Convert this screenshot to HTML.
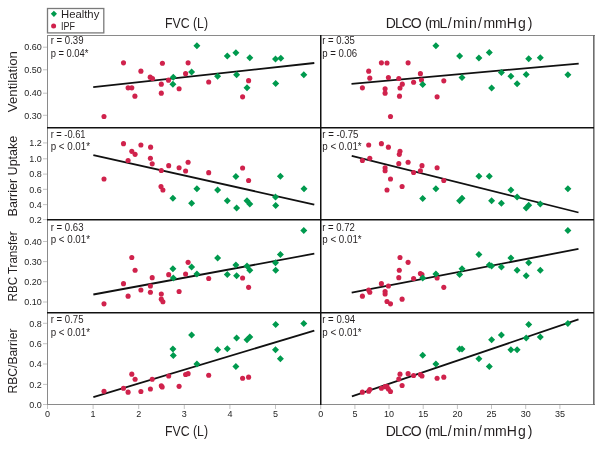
<!DOCTYPE html><html><head><meta charset="utf-8"><style>html,body{margin:0;padding:0;background:#fff;width:604px;height:449px;overflow:hidden}svg{display:block;will-change:transform}text{font-family:"Liberation Sans",sans-serif}</style></head><body>
<svg width="604" height="449" viewBox="0 0 604 449">
<rect width="604" height="449" fill="#fff"/>
<g fill="#8a8a8a">
<rect x="47" y="35" width="1" height="370"/>
<rect x="47" y="35" width="548" height="1"/>
<rect x="47" y="404" width="548" height="1"/>
<rect x="593" y="35" width="1.6" height="370" fill="#6e6e6e"/>
</g>
<g fill="#c4c4c4">
<rect x="43" y="46.7" width="4" height="1"/>
<rect x="43" y="69.3" width="4" height="1"/>
<rect x="43" y="92.7" width="4" height="1"/>
<rect x="43" y="114.8" width="4" height="1"/>
<rect x="43" y="142.4" width="4" height="1"/>
<rect x="43" y="158.3" width="4" height="1"/>
<rect x="43" y="173.6" width="4" height="1"/>
<rect x="43" y="188.8" width="4" height="1"/>
<rect x="43" y="204.1" width="4" height="1"/>
<rect x="43" y="219.1" width="4" height="1"/>
<rect x="43" y="241.0" width="4" height="1"/>
<rect x="43" y="261.1" width="4" height="1"/>
<rect x="43" y="281.2" width="4" height="1"/>
<rect x="43" y="301.5" width="4" height="1"/>
<rect x="43" y="322.8" width="4" height="1"/>
<rect x="43" y="343.2" width="4" height="1"/>
<rect x="43" y="363.5" width="4" height="1"/>
<rect x="43" y="383.9" width="4" height="1"/>
<rect x="43" y="404.0" width="4" height="1"/>
<rect x="47.0" y="405" width="1" height="4"/>
<rect x="92.6" y="405" width="1" height="4"/>
<rect x="138.2" y="405" width="1" height="4"/>
<rect x="183.8" y="405" width="1" height="4"/>
<rect x="229.4" y="405" width="1" height="4"/>
<rect x="275.0" y="405" width="1" height="4"/>
<rect x="320.2" y="405" width="1" height="4"/>
<rect x="354.4" y="405" width="1" height="4"/>
<rect x="388.5" y="405" width="1" height="4"/>
<rect x="422.7" y="405" width="1" height="4"/>
<rect x="456.9" y="405" width="1" height="4"/>
<rect x="491.0" y="405" width="1" height="4"/>
<rect x="525.2" y="405" width="1" height="4"/>
<rect x="559.4" y="405" width="1" height="4"/>
</g>
<g fill="#111">
<rect x="320" y="35" width="1.5" height="370"/>
<rect x="47" y="127" width="547" height="1.5"/>
<rect x="47" y="219" width="547" height="1.5"/>
<rect x="47" y="312" width="547" height="1.5"/>
</g>
<line x1="93.2" y1="87.1" x2="314.3" y2="63.0" stroke="#111" stroke-width="1.8"/>
<g fill="#d0224c">
<circle cx="123.5" cy="62.85" r="2.55"/>
<circle cx="162.4" cy="63.25" r="2.55"/>
<circle cx="140.9" cy="71.15" r="2.55"/>
<circle cx="150.2" cy="77.15" r="2.55"/>
<circle cx="152.5" cy="78.55" r="2.55"/>
<circle cx="128.1" cy="87.85000000000001" r="2.55"/>
<circle cx="131.8" cy="87.85000000000001" r="2.55"/>
<circle cx="134.9" cy="96.15" r="2.55"/>
<circle cx="161.3" cy="84.15" r="2.55"/>
<circle cx="161.3" cy="93.15" r="2.55"/>
<circle cx="168.5" cy="80.15" r="2.55"/>
<circle cx="179.1" cy="88.75" r="2.55"/>
<circle cx="185.6" cy="73.65" r="2.55"/>
<circle cx="188.1" cy="62.85" r="2.55"/>
<circle cx="104" cy="116.55" r="2.55"/>
<circle cx="208.7" cy="82.05" r="2.55"/>
<circle cx="248.6" cy="80.65" r="2.55"/>
<circle cx="242.6" cy="96.85000000000001" r="2.55"/>
</g>
<path fill="#009a4e" d="M173.3 73.7L176.8 77.2L173.3 80.7L169.8 77.2ZM172.9 80.7L176.4 84.2L172.9 87.7L169.4 84.2ZM191.6 68.5L195.1 72.0L191.6 75.5L188.1 72.0ZM196.9 42.2L200.4 45.7L196.9 49.2L193.4 45.7ZM217.6 72.8L221.1 76.2L217.6 79.8L214.1 76.2ZM227.3 52.6L230.8 56.1L227.3 59.6L223.8 56.1ZM235.9 49.2L239.4 52.7L235.9 56.2L232.4 52.7ZM236.6 71.2L240.1 74.7L236.6 78.2L233.1 74.7ZM249.8 54.2L253.3 57.8L249.8 61.2L246.3 57.8ZM247.0 84.2L250.5 87.7L247.0 91.2L243.5 87.7ZM275.5 55.4L279.0 58.9L275.5 62.4L272.0 58.9ZM280.8 54.7L284.3 58.2L280.8 61.7L277.3 58.2ZM275.7 80.0L279.2 83.5L275.7 87.0L272.2 83.5ZM303.8 71.2L307.3 74.7L303.8 78.2L300.3 74.7Z"/>
<text x="50.66" y="44.4" font-size="10.2" fill="#231f20" textLength="32.89" lengthAdjust="spacingAndGlyphs">r = 0.39</text>
<text x="50.70" y="56.6" font-size="10.2" fill="#231f20" textLength="37.75" lengthAdjust="spacingAndGlyphs">p = 0.04*</text>
<line x1="351.5" y1="83.8" x2="578.7" y2="63.55" stroke="#111" stroke-width="1.8"/>
<g fill="#d0224c">
<circle cx="381.4" cy="62.85" r="2.55"/>
<circle cx="387" cy="63.050000000000004" r="2.55"/>
<circle cx="408.1" cy="62.85" r="2.55"/>
<circle cx="368.7" cy="71.15" r="2.55"/>
<circle cx="369.8" cy="78.15" r="2.55"/>
<circle cx="388.4" cy="77.45" r="2.55"/>
<circle cx="398.8" cy="78.55" r="2.55"/>
<circle cx="420.4" cy="73.65" r="2.55"/>
<circle cx="421.5" cy="79.95" r="2.55"/>
<circle cx="413.6" cy="82.25" r="2.55"/>
<circle cx="402.3" cy="84.15" r="2.55"/>
<circle cx="400" cy="88.05" r="2.55"/>
<circle cx="362.4" cy="87.85000000000001" r="2.55"/>
<circle cx="385.1" cy="88.75" r="2.55"/>
<circle cx="385.1" cy="93.15" r="2.55"/>
<circle cx="399.5" cy="96.15" r="2.55"/>
<circle cx="390.5" cy="116.55" r="2.55"/>
<circle cx="443.8" cy="80.85000000000001" r="2.55"/>
<circle cx="437.1" cy="96.85000000000001" r="2.55"/>
</g>
<path fill="#009a4e" d="M435.9 42.2L439.4 45.7L435.9 49.2L432.4 45.7ZM422.7 80.9L426.2 84.4L422.7 87.9L419.2 84.4ZM459.6 52.6L463.1 56.1L459.6 59.6L456.1 56.1ZM462.0 74.0L465.5 77.5L462.0 81.0L458.5 77.5ZM478.9 54.5L482.4 58.0L478.9 61.5L475.4 58.0ZM489.3 48.9L492.8 52.4L489.3 55.9L485.8 52.4ZM501.4 69.0L504.9 72.5L501.4 76.0L497.9 72.5ZM510.9 72.8L514.4 76.2L510.9 79.8L507.4 76.2ZM491.6 84.4L495.1 87.9L491.6 91.4L488.1 87.9ZM517.1 80.2L520.6 83.7L517.1 87.2L513.6 83.7ZM526.2 70.9L529.7 74.4L526.2 77.9L522.7 74.4ZM528.7 55.2L532.2 58.7L528.7 62.2L525.2 58.7ZM540.3 54.2L543.8 57.8L540.3 61.2L536.8 57.8ZM567.9 71.2L571.4 74.7L567.9 78.2L564.4 74.7Z"/>
<text x="322.27" y="44.4" font-size="10.2" fill="#231f20" textLength="32.53" lengthAdjust="spacingAndGlyphs">r = 0.35</text>
<text x="322.28" y="56.6" font-size="10.2" fill="#231f20" textLength="34.94" lengthAdjust="spacingAndGlyphs">p = 0.06</text>
<line x1="93.35" y1="155.1" x2="314.3" y2="204.6" stroke="#111" stroke-width="1.8"/>
<g fill="#d0224c">
<circle cx="123.5" cy="143.64999999999998" r="2.55"/>
<circle cx="140.9" cy="145.04999999999998" r="2.55"/>
<circle cx="150.6" cy="147.14999999999998" r="2.55"/>
<circle cx="131.8" cy="151.35" r="2.55"/>
<circle cx="135.1" cy="154.35" r="2.55"/>
<circle cx="150.4" cy="158.25" r="2.55"/>
<circle cx="128.1" cy="160.54999999999998" r="2.55"/>
<circle cx="152.2" cy="163.85" r="2.55"/>
<circle cx="168.7" cy="165.64999999999998" r="2.55"/>
<circle cx="179.1" cy="167.75" r="2.55"/>
<circle cx="185.6" cy="171.04999999999998" r="2.55"/>
<circle cx="188.1" cy="162.25" r="2.55"/>
<circle cx="161.3" cy="170.54999999999998" r="2.55"/>
<circle cx="104" cy="178.95" r="2.55"/>
<circle cx="161" cy="186.54999999999998" r="2.55"/>
<circle cx="162.9" cy="190.04999999999998" r="2.55"/>
<circle cx="208.7" cy="172.64999999999998" r="2.55"/>
<circle cx="242.6" cy="168.04999999999998" r="2.55"/>
<circle cx="248.6" cy="180.54999999999998" r="2.55"/>
</g>
<path fill="#009a4e" d="M172.9 194.8L176.4 198.3L172.9 201.8L169.4 198.3ZM196.9 185.3L200.4 188.8L196.9 192.3L193.4 188.8ZM191.6 199.8L195.1 203.2L191.6 206.8L188.1 203.2ZM217.6 186.5L221.1 190.0L217.6 193.5L214.1 190.0ZM227.3 197.2L230.8 200.8L227.3 204.2L223.8 200.8ZM235.9 173.0L239.4 176.5L235.9 180.0L232.4 176.5ZM236.6 204.6L240.1 208.1L236.6 211.6L233.1 208.1ZM247.0 197.2L250.5 200.8L247.0 204.2L243.5 200.8ZM249.8 200.4L253.3 203.9L249.8 207.4L246.3 203.9ZM280.4 172.8L283.9 176.3L280.4 179.8L276.9 176.3ZM275.5 193.4L279.0 196.9L275.5 200.4L272.0 196.9ZM275.7 202.0L279.2 205.5L275.7 209.0L272.2 205.5ZM304.0 185.3L307.5 188.8L304.0 192.3L300.5 188.8Z"/>
<text x="50.68" y="137.6" font-size="10.2" fill="#231f20" textLength="34.87" lengthAdjust="spacingAndGlyphs">r = -0.61</text>
<text x="50.67" y="149.9" font-size="10.2" fill="#231f20" textLength="39.38" lengthAdjust="spacingAndGlyphs">p < 0.01*</text>
<line x1="351.7" y1="155.8" x2="578.5" y2="212.5" stroke="#111" stroke-width="1.8"/>
<g fill="#d0224c">
<circle cx="368.7" cy="145.04999999999998" r="2.55"/>
<circle cx="381.4" cy="143.64999999999998" r="2.55"/>
<circle cx="388.4" cy="147.14999999999998" r="2.55"/>
<circle cx="400" cy="151.35" r="2.55"/>
<circle cx="399.3" cy="154.35" r="2.55"/>
<circle cx="369.8" cy="158.25" r="2.55"/>
<circle cx="362.4" cy="160.54999999999998" r="2.55"/>
<circle cx="398.8" cy="163.64999999999998" r="2.55"/>
<circle cx="408.1" cy="162.25" r="2.55"/>
<circle cx="385.1" cy="167.75" r="2.55"/>
<circle cx="385.1" cy="170.75" r="2.55"/>
<circle cx="422" cy="165.64999999999998" r="2.55"/>
<circle cx="420.4" cy="170.75" r="2.55"/>
<circle cx="413.6" cy="172.45" r="2.55"/>
<circle cx="437.1" cy="167.75" r="2.55"/>
<circle cx="443.8" cy="180.54999999999998" r="2.55"/>
<circle cx="390.5" cy="178.95" r="2.55"/>
<circle cx="402.1" cy="186.54999999999998" r="2.55"/>
<circle cx="387" cy="190.04999999999998" r="2.55"/>
</g>
<path fill="#009a4e" d="M435.9 185.3L439.4 188.8L435.9 192.3L432.4 188.8ZM422.7 195.1L426.2 198.6L422.7 202.1L419.2 198.6ZM459.6 197.2L463.1 200.8L459.6 204.2L456.1 200.8ZM462.0 194.8L465.5 198.3L462.0 201.8L458.5 198.3ZM478.9 172.8L482.4 176.3L478.9 179.8L475.4 176.3ZM489.3 172.8L492.8 176.3L489.3 179.8L485.8 176.3ZM491.6 197.2L495.1 200.8L491.6 204.2L488.1 200.8ZM501.4 199.8L504.9 203.2L501.4 206.8L497.9 203.2ZM510.9 186.5L514.4 190.0L510.9 193.5L507.4 190.0ZM517.1 193.4L520.6 196.9L517.1 200.4L513.6 196.9ZM526.2 204.6L529.7 208.1L526.2 211.6L522.7 208.1ZM528.7 201.8L532.2 205.3L528.7 208.8L525.2 205.3ZM540.3 200.4L543.8 203.9L540.3 207.4L536.8 203.9ZM567.9 185.3L571.4 188.8L567.9 192.3L564.4 188.8Z"/>
<text x="322.26" y="137.6" font-size="10.2" fill="#231f20" textLength="36.25" lengthAdjust="spacingAndGlyphs">r = -0.75</text>
<text x="322.27" y="149.9" font-size="10.2" fill="#231f20" textLength="39.38" lengthAdjust="spacingAndGlyphs">p < 0.01*</text>
<line x1="93.35" y1="294.5" x2="314.3" y2="253.7" stroke="#111" stroke-width="1.8"/>
<g fill="#d0224c">
<circle cx="131.8" cy="257.45" r="2.55"/>
<circle cx="135.1" cy="270.25" r="2.55"/>
<circle cx="123.5" cy="283.65" r="2.55"/>
<circle cx="128.1" cy="296.15" r="2.55"/>
<circle cx="140.9" cy="289.95" r="2.55"/>
<circle cx="152.2" cy="277.65" r="2.55"/>
<circle cx="150.4" cy="285.95" r="2.55"/>
<circle cx="150.4" cy="292.25" r="2.55"/>
<circle cx="161.3" cy="294.05" r="2.55"/>
<circle cx="161.3" cy="299.15" r="2.55"/>
<circle cx="162.9" cy="301.75" r="2.55"/>
<circle cx="168.7" cy="274.65" r="2.55"/>
<circle cx="179.1" cy="291.55" r="2.55"/>
<circle cx="185.6" cy="273.95" r="2.55"/>
<circle cx="188.1" cy="262.34999999999997" r="2.55"/>
<circle cx="104" cy="303.84999999999997" r="2.55"/>
<circle cx="208.7" cy="278.55" r="2.55"/>
<circle cx="242.6" cy="278.05" r="2.55"/>
<circle cx="248.6" cy="287.34999999999997" r="2.55"/>
</g>
<path fill="#009a4e" d="M172.9 265.3L176.4 268.8L172.9 272.3L169.4 268.8ZM173.3 274.6L176.8 278.1L173.3 281.6L169.8 278.1ZM191.6 263.4L195.1 266.9L191.6 270.4L188.1 266.9ZM196.9 270.4L200.4 273.9L196.9 277.4L193.4 273.9ZM217.6 254.4L221.1 257.9L217.6 261.4L214.1 257.9ZM227.3 271.1L230.8 274.6L227.3 278.1L223.8 274.6ZM235.9 261.6L239.4 265.1L235.9 268.6L232.4 265.1ZM236.6 272.2L240.1 275.8L236.6 279.2L233.1 275.8ZM247.0 262.6L250.5 266.1L247.0 269.6L243.5 266.1ZM249.8 266.8L253.3 270.2L249.8 273.8L246.3 270.2ZM280.4 251.1L283.9 254.6L280.4 258.1L276.9 254.6ZM275.5 259.2L279.0 262.8L275.5 266.2L272.0 262.8ZM275.7 266.8L279.2 270.2L275.7 273.8L272.2 270.2ZM303.8 227.0L307.3 230.5L303.8 234.0L300.3 230.5Z"/>
<text x="50.66" y="230.6" font-size="10.2" fill="#231f20" textLength="32.86" lengthAdjust="spacingAndGlyphs">r = 0.63</text>
<text x="50.67" y="242.8" font-size="10.2" fill="#231f20" textLength="39.38" lengthAdjust="spacingAndGlyphs">p < 0.01*</text>
<line x1="351.7" y1="292.6" x2="578.5" y2="248.9" stroke="#111" stroke-width="1.8"/>
<g fill="#d0224c">
<circle cx="400" cy="257.45" r="2.55"/>
<circle cx="408.1" cy="262.34999999999997" r="2.55"/>
<circle cx="399.3" cy="270.25" r="2.55"/>
<circle cx="398.8" cy="277.65" r="2.55"/>
<circle cx="413.6" cy="278.55" r="2.55"/>
<circle cx="420.4" cy="273.45" r="2.55"/>
<circle cx="422" cy="274.65" r="2.55"/>
<circle cx="437.1" cy="278.05" r="2.55"/>
<circle cx="443.8" cy="287.34999999999997" r="2.55"/>
<circle cx="381.4" cy="283.65" r="2.55"/>
<circle cx="388.4" cy="285.95" r="2.55"/>
<circle cx="368.7" cy="289.95" r="2.55"/>
<circle cx="369.8" cy="292.25" r="2.55"/>
<circle cx="385.1" cy="291.55" r="2.55"/>
<circle cx="385.1" cy="294.05" r="2.55"/>
<circle cx="362.4" cy="296.15" r="2.55"/>
<circle cx="387" cy="301.55" r="2.55"/>
<circle cx="390.5" cy="303.84999999999997" r="2.55"/>
<circle cx="402.1" cy="299.15" r="2.55"/>
</g>
<path fill="#009a4e" d="M422.7 274.6L426.2 278.1L422.7 281.6L419.2 278.1ZM435.9 270.4L439.4 273.9L435.9 277.4L432.4 273.9ZM459.6 271.1L463.1 274.6L459.6 278.1L456.1 274.6ZM462.0 265.3L465.5 268.8L462.0 272.3L458.5 268.8ZM478.9 251.1L482.4 254.6L478.9 258.1L475.4 254.6ZM489.3 261.6L492.8 265.1L489.3 268.6L485.8 265.1ZM491.6 262.6L495.1 266.1L491.6 269.6L488.1 266.1ZM501.4 263.4L504.9 266.9L501.4 270.4L497.9 266.9ZM510.9 254.4L514.4 257.9L510.9 261.4L507.4 257.9ZM517.1 266.8L520.6 270.2L517.1 273.8L513.6 270.2ZM526.2 272.2L529.7 275.8L526.2 279.2L522.7 275.8ZM528.7 259.2L532.2 262.8L528.7 266.2L525.2 262.8ZM540.3 266.8L543.8 270.2L540.3 273.8L536.8 270.2ZM567.9 227.0L571.4 230.5L567.9 234.0L564.4 230.5Z"/>
<text x="322.27" y="230.6" font-size="10.2" fill="#231f20" textLength="32.61" lengthAdjust="spacingAndGlyphs">r = 0.72</text>
<text x="322.27" y="242.8" font-size="10.2" fill="#231f20" textLength="39.38" lengthAdjust="spacingAndGlyphs">p < 0.01*</text>
<line x1="93.35" y1="397.1" x2="314.3" y2="330.6" stroke="#111" stroke-width="1.8"/>
<g fill="#d0224c">
<circle cx="131.8" cy="374.15" r="2.55"/>
<circle cx="135.1" cy="379.25" r="2.55"/>
<circle cx="123.5" cy="388.25" r="2.55"/>
<circle cx="128.1" cy="392.15" r="2.55"/>
<circle cx="140.9" cy="391.45" r="2.55"/>
<circle cx="152.2" cy="379.25" r="2.55"/>
<circle cx="150.4" cy="388.95" r="2.55"/>
<circle cx="161.3" cy="385.75" r="2.55"/>
<circle cx="162.2" cy="387.05" r="2.55"/>
<circle cx="168.7" cy="375.95" r="2.55"/>
<circle cx="179.1" cy="386.34999999999997" r="2.55"/>
<circle cx="185.6" cy="374.55" r="2.55"/>
<circle cx="188.1" cy="373.65" r="2.55"/>
<circle cx="104" cy="391.25" r="2.55"/>
<circle cx="208.7" cy="375.25" r="2.55"/>
<circle cx="242.6" cy="378.25" r="2.55"/>
<circle cx="248.6" cy="377.15" r="2.55"/>
</g>
<path fill="#009a4e" d="M172.9 345.6L176.4 349.1L172.9 352.6L169.4 349.1ZM173.3 352.1L176.8 355.6L173.3 359.1L169.8 355.6ZM191.6 331.6L195.1 335.1L191.6 338.6L188.1 335.1ZM196.9 360.4L200.4 363.9L196.9 367.4L193.4 363.9ZM217.6 346.2L221.1 349.8L217.6 353.2L214.1 349.8ZM227.3 345.3L230.8 348.8L227.3 352.3L223.8 348.8ZM236.6 334.6L240.1 338.1L236.6 341.6L233.1 338.1ZM235.9 362.9L239.4 366.4L235.9 369.9L232.4 366.4ZM247.0 336.3L250.5 339.8L247.0 343.3L243.5 339.8ZM249.8 333.6L253.3 337.1L249.8 340.6L246.3 337.1ZM275.7 321.1L279.2 324.6L275.7 328.1L272.2 324.6ZM275.5 346.2L279.0 349.8L275.5 353.2L272.0 349.8ZM280.4 355.3L283.9 358.8L280.4 362.3L276.9 358.8ZM303.8 320.1L307.3 323.6L303.8 327.1L300.3 323.6Z"/>
<text x="50.66" y="322.8" font-size="10.2" fill="#231f20" textLength="32.84" lengthAdjust="spacingAndGlyphs">r = 0.75</text>
<text x="50.67" y="335.5" font-size="10.2" fill="#231f20" textLength="39.38" lengthAdjust="spacingAndGlyphs">p < 0.01*</text>
<line x1="351.9" y1="396.4" x2="578.5" y2="319.4" stroke="#111" stroke-width="1.8"/>
<g fill="#d0224c">
<circle cx="400" cy="374.15" r="2.55"/>
<circle cx="398.8" cy="378.95" r="2.55"/>
<circle cx="408.1" cy="373.65" r="2.55"/>
<circle cx="413.6" cy="375.45" r="2.55"/>
<circle cx="420.4" cy="374.55" r="2.55"/>
<circle cx="422" cy="375.95" r="2.55"/>
<circle cx="437.1" cy="378.25" r="2.55"/>
<circle cx="443.8" cy="377.15" r="2.55"/>
<circle cx="402.1" cy="385.45" r="2.55"/>
<circle cx="381.4" cy="388.25" r="2.55"/>
<circle cx="385.1" cy="386.65" r="2.55"/>
<circle cx="387" cy="386.65" r="2.55"/>
<circle cx="388.4" cy="388.95" r="2.55"/>
<circle cx="390.5" cy="391.45" r="2.55"/>
<circle cx="368.7" cy="391.25" r="2.55"/>
<circle cx="369.8" cy="389.45" r="2.55"/>
<circle cx="362.4" cy="392.15" r="2.55"/>
</g>
<path fill="#009a4e" d="M422.7 351.8L426.2 355.3L422.7 358.8L419.2 355.3ZM435.9 360.4L439.4 363.9L435.9 367.4L432.4 363.9ZM459.6 345.6L463.1 349.1L459.6 352.6L456.1 349.1ZM462.0 345.6L465.5 349.1L462.0 352.6L458.5 349.1ZM478.9 355.3L482.4 358.8L478.9 362.3L475.4 358.8ZM489.3 362.9L492.8 366.4L489.3 369.9L485.8 366.4ZM491.6 336.3L495.1 339.8L491.6 343.3L488.1 339.8ZM501.4 331.6L504.9 335.1L501.4 338.6L497.9 335.1ZM510.9 346.2L514.4 349.8L510.9 353.2L507.4 349.8ZM517.1 346.2L520.6 349.8L517.1 353.2L513.6 349.8ZM526.2 334.6L529.7 338.1L526.2 341.6L522.7 338.1ZM528.7 321.1L532.2 324.6L528.7 328.1L525.2 324.6ZM540.3 333.6L543.8 337.1L540.3 340.6L536.8 337.1ZM567.9 320.1L571.4 323.6L567.9 327.1L564.4 323.6Z"/>
<text x="322.26" y="322.8" font-size="10.2" fill="#231f20" textLength="32.82" lengthAdjust="spacingAndGlyphs">r = 0.94</text>
<text x="322.27" y="335.5" font-size="10.2" fill="#231f20" textLength="39.38" lengthAdjust="spacingAndGlyphs">p < 0.01*</text>
<g font-size="9" fill="#1e1e1e" text-anchor="end">
<text x="41.8" y="50.4">0.60</text>
<text x="41.8" y="73.0">0.50</text>
<text x="41.8" y="96.4">0.40</text>
<text x="41.8" y="118.5">0.30</text>
<text x="41.8" y="146.1">1.2</text>
<text x="41.8" y="162.0">1.0</text>
<text x="41.8" y="177.3">0.8</text>
<text x="41.8" y="192.5">0.6</text>
<text x="41.8" y="207.8">0.4</text>
<text x="41.8" y="222.8">0.2</text>
<text x="41.8" y="244.7">0.40</text>
<text x="41.8" y="264.8">0.30</text>
<text x="41.8" y="284.9">0.20</text>
<text x="41.8" y="305.2">0.10</text>
<text x="41.8" y="326.5">0.8</text>
<text x="41.8" y="346.9">0.6</text>
<text x="41.8" y="367.2">0.4</text>
<text x="41.8" y="387.6">0.2</text>
<text x="41.8" y="407.7">0.0</text>
</g>
<g font-size="9" fill="#1e1e1e" text-anchor="middle">
<text x="47.5" y="417.4">0</text>
<text x="93.1" y="417.4">1</text>
<text x="138.7" y="417.4">2</text>
<text x="184.3" y="417.4">3</text>
<text x="229.9" y="417.4">4</text>
<text x="275.5" y="417.4">5</text>
<text x="320.7" y="417.4">0</text>
<text x="354.9" y="417.4">5</text>
<text x="389.0" y="417.4">10</text>
<text x="423.2" y="417.4">15</text>
<text x="457.4" y="417.4">20</text>
<text x="491.5" y="417.4">25</text>
<text x="525.7" y="417.4">30</text>
<text x="559.9" y="417.4">35</text>
</g>
<text transform="rotate(-90)" x="-112.16" y="16.6" font-size="13" fill="#231f20" textLength="61.01" lengthAdjust="spacingAndGlyphs">Ventilation</text>
<text transform="rotate(-90)" x="-216.43" y="16.6" font-size="13" fill="#231f20" textLength="80.68" lengthAdjust="spacingAndGlyphs">Barrier Uptake</text>
<text transform="rotate(-90)" x="-301.39" y="16.6" font-size="13" fill="#231f20" textLength="69.88" lengthAdjust="spacingAndGlyphs">RBC Transfer</text>
<text transform="rotate(-90)" x="-393.39" y="16.6" font-size="13" fill="#231f20" textLength="64.89" lengthAdjust="spacingAndGlyphs">RBC/Barrier</text>
<text x="164.99" y="27.8" font-size="14" fill="#231f20" textLength="43.07" lengthAdjust="spacingAndGlyphs">FVC (L)</text>
<text x="385.63 395.12 401.66 410.81 421.70 424.98 428.82 439.62 447.86 452.92 464.90 469.00 478.06 483.57 495.02 506.69 517.91 527.66" y="27.8" font-size="14" fill="#231f20">DLCO (mL/min/mmHg)</text>
<text x="164.99" y="436.0" font-size="14" fill="#231f20" textLength="43.07" lengthAdjust="spacingAndGlyphs">FVC (L)</text>
<text x="385.63 395.12 401.66 410.81 421.70 424.98 428.82 439.62 447.86 452.92 464.90 469.00 478.06 483.57 495.02 506.69 517.91 527.66" y="436.0" font-size="14" fill="#231f20">DLCO (mL/min/mmHg)</text>
<rect x="47.5" y="8.5" width="56.3" height="24.4" fill="#fff" stroke="#7a7a7a" stroke-width="1.3"/>
<path fill="#009a4e" d="M53.9 10.7L57.0 13.8L53.9 16.9L50.8 13.8Z"/>
<circle cx="53.6" cy="26.1" r="2.5" fill="#d0224c"/>
<text x="61" y="18" font-size="11" fill="#231f20" textLength="38.3" lengthAdjust="spacingAndGlyphs">Healthy</text>
<text x="61" y="30" font-size="11" fill="#231f20" textLength="14" lengthAdjust="spacingAndGlyphs">IPF</text>
</svg></body></html>
